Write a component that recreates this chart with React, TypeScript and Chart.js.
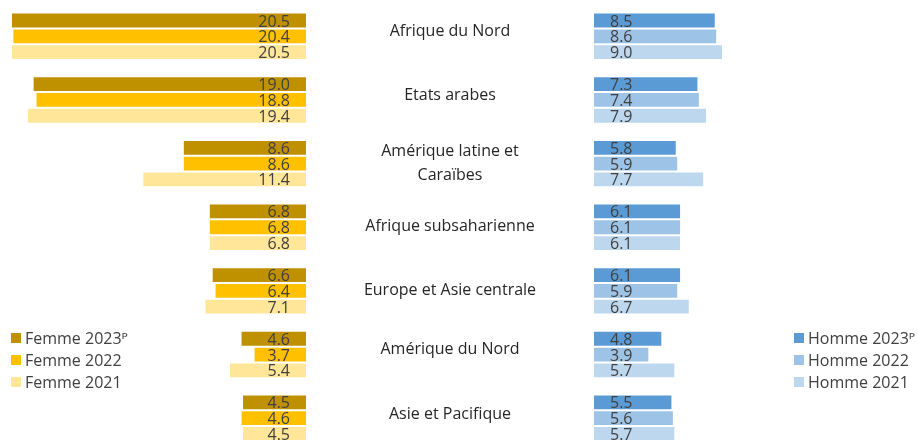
import React, { useEffect, useRef } from "react";
import { Chart, registerables } from "chart.js";

Chart.register(...registerables);

// ---- Data ----
const categories: (string | string[])[] = [
  "Afrique du Nord",
  "Etats arabes",
  ["Amérique latine et", "Caraïbes"],
  "Afrique subsaharienne",
  "Europe et Asie centrale",
  "Amérique du Nord",
  "Asie et Pacifique",
];

const femme2023 = [20.5, 19.0, 8.6, 6.8, 6.6, 4.6, 4.5];
const femme2022 = [20.4, 18.8, 8.6, 6.8, 6.4, 3.7, 4.6];
const femme2021 = [20.5, 19.4, 11.4, 6.8, 7.1, 5.4, 4.5];

const homme2023 = [8.5, 7.3, 5.8, 6.1, 6.1, 4.8, 5.5];
const homme2022 = [8.6, 7.4, 5.9, 6.1, 5.9, 3.9, 5.6];
const homme2021 = [9.0, 7.9, 7.7, 6.1, 6.7, 5.7, 5.7];

const femmeSeriesNames = ["Femme 2023ᴾ", "Femme 2022", "Femme 2021"];
const hommeSeriesNames = ["Homme 2023ᴾ", "Homme 2022", "Homme 2021"];

// ---- Styles ----
const FONT = '"Open Sans", "DejaVu Sans", sans-serif';
const femmeColors = ["#BF9000", "#FFC000", "#FFE699"];
const hommeColors = ["#5B9BD5", "#9DC3E6", "#BDD7EE"];
const categoryLabelNudge = [-6.3, -5.7, -1.5, -2.3, -1.7, -6.3, -5];

const CANVAS_H = 450;
const LEFT_W = 593;
const RIGHT_W = 325;

const valueLabelPlugin = (side: "left" | "right") => ({
  id: "valueLabels_" + side,
  afterDatasetsDraw(chart: any) {
    const ctx = chart.ctx;
    ctx.save();
    ctx.font = `16px ${FONT}`;
    ctx.fillStyle = "#404040";
    ctx.textBaseline = "alphabetic";
    chart.data.datasets.forEach((ds: any, di: number) => {
      const meta = chart.getDatasetMeta(di);
      meta.data.forEach((el: any, i: number) => {
        const v = ds.data[i] as number;
        const txt = v.toFixed(1);
        const base = el.base;
        if (side === "left") {
          ctx.textAlign = "right";
          ctx.fillText(txt, base - 17, el.y + 6);
        } else {
          ctx.textAlign = "left";
          ctx.fillText(txt, base + 17, el.y + 6);
        }
      });
    });
    ctx.restore();
  },
});

const categoryLabelPlugin = {
  id: "categoryLabels",
  afterDraw(chart: any) {
    const ctx = chart.ctx;
    const yScale = chart.scales.y;
    ctx.save();
    ctx.font = `16px ${FONT}`;
    ctx.fillStyle = "#262626";
    ctx.textAlign = "center";
    ctx.textBaseline = "alphabetic";
    const cx = chart.chartArea.right + 143;
    (chart.data.labels as any[]).forEach((lab, i) => {
      const center = yScale.getPixelForValue(i);
      const lines: string[] = Array.isArray(lab) ? lab : [lab];
      if (lines.length === 1) {
        ctx.fillText(lines[0], cx, center + categoryLabelNudge[i] + 5.7);
      } else {
        const spacing = 23.5;
        const start = center + categoryLabelNudge[i] - (spacing * (lines.length - 1)) / 2;
        lines.forEach((ln, k) => {
          ctx.fillText(ln, cx, start + k * spacing + 5.7);
        });
      }
    });
    ctx.restore();
  },
};

const legendPlugin = (boxX: number) => ({
  id: "sideLegend",
  afterDraw(chart: any) {
    const ctx = chart.ctx;
    ctx.save();
    ctx.font = `16px ${FONT}`;
    ctx.textAlign = "left";
    ctx.textBaseline = "alphabetic";
    chart.data.datasets.forEach((ds: any, i: number) => {
      const top = 333 + i * 22;
      ctx.fillStyle = ds.backgroundColor;
      ctx.fillRect(boxX, top, 10, 10);
      ctx.fillStyle = "#404040";
      ctx.fillText(ds.label, boxX + 14, top + 10.5);
    });
    ctx.restore();
  },
});

function makeDatasets(names: string[], colors: string[], series: number[][]) {
  return series.map((data, i) => ({
    label: names[i],
    data,
    backgroundColor: colors[i],
    borderColor: i === 0 ? "rgba(255,255,255,0.75)" : "#ffffff",
    borderWidth: 1,
    borderSkipped: false as any,
    categoryPercentage: 0.745,
    barPercentage: 1,
  }));
}

export default function App() {
  const leftRef = useRef<HTMLCanvasElement | null>(null);
  const rightRef = useRef<HTMLCanvasElement | null>(null);

  useEffect(() => {
    if (!leftRef.current || !rightRef.current) return;
    const common = {
      indexAxis: "y" as const,
      responsive: false,
      animation: false as const,
      devicePixelRatio: 1,
      plugins: { legend: { display: false }, tooltip: { enabled: false } },
    };
    const left = new Chart(leftRef.current, {
      type: "bar",
      data: {
        labels: categories as any,
        datasets: makeDatasets(femmeSeriesNames, femmeColors, [femme2023, femme2022, femme2021]),
      },
      options: {
        ...common,
        layout: { padding: { top: 4.5, right: LEFT_W - 307, left: 0, bottom: 0 } },
        scales: {
          x: { type: "linear", reverse: true, min: 0, max: 307 / 14.44, display: false },
          y: { type: "category", display: false },
        },
      } as any,
      plugins: [valueLabelPlugin("left"), categoryLabelPlugin, legendPlugin(11)],
    });
    const right = new Chart(rightRef.current, {
      type: "bar",
      data: {
        labels: categories as any,
        datasets: makeDatasets(hommeSeriesNames, hommeColors, [homme2023, homme2022, homme2021]),
      },
      options: {
        ...common,
        layout: { padding: { top: 4.5, right: 0, left: 0, bottom: 0 } },
        scales: {
          x: { type: "linear", min: 0, max: RIGHT_W / 14.44, display: false },
          y: { type: "category", display: false },
        },
      } as any,
      plugins: [valueLabelPlugin("right"), legendPlugin(794 - LEFT_W)],
    });
    return () => {
      left.destroy();
      right.destroy();
    };
  }, []);

  return (
    <div
      style={{
        position: "fixed",
        left: 0,
        top: 0,
        width: 918,
        height: 440,
        overflow: "hidden",
        background: "#ffffff",
        display: "flex",
      }}
    >
      <canvas ref={leftRef} width={LEFT_W} height={CANVAS_H} style={{ width: LEFT_W, height: CANVAS_H, display: "block" }} />
      <canvas ref={rightRef} width={RIGHT_W} height={CANVAS_H} style={{ width: RIGHT_W, height: CANVAS_H, display: "block" }} />
    </div>
  );
}
